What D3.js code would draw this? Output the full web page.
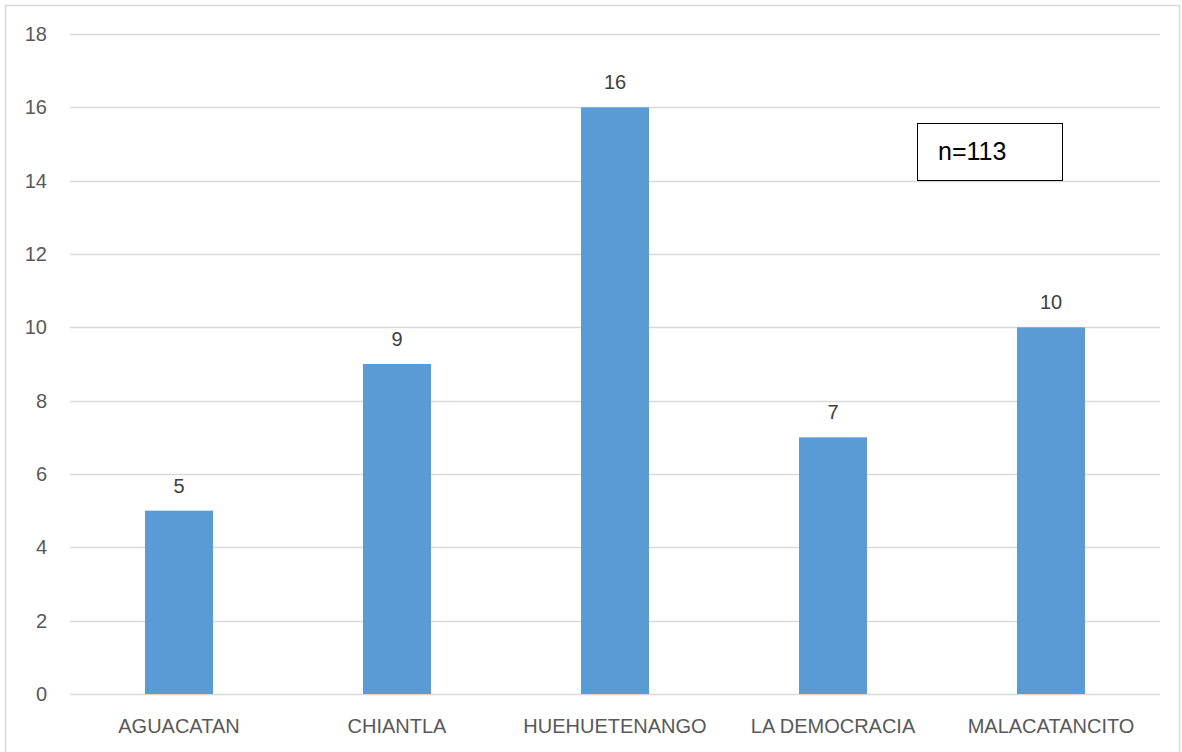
<!DOCTYPE html>
<html>
<head>
<meta charset="utf-8">
<script src="https://cdn.jsdelivr.net/npm/d3@7"></script>
<style>
  html, body { margin: 0; padding: 0; background: #fff; }
  svg { display: block; }
  text { font-family: "Liberation Sans", "DejaVu Sans", sans-serif; }
</style>
</head>
<body>
<svg id="chart" width="1182" height="752"></svg>
<script>
// Municipios and their counts
const categories = ["AGUACATAN", "CHIANTLA", "HUEHUETENANGO", "LA DEMOCRACIA", "MALACATANCITO"];
const values = [5, 9, 16, 7, 10];
const yTicks = [0, 2, 4, 6, 8, 10, 12, 14, 16, 18];
const noteText = "n=113";

const svg = d3.select("#chart");
const W = 1182, H = 752;
const plot = { left: 70, right: 1160, top: 34, bottom: 694 };

// Outer chart border
svg.append("rect")
  .attr("x", 5.5).attr("y", 5.5)
  .attr("width", W - 8).attr("height", H + 10)
  .attr("fill", "#fff")
  .attr("stroke", "#d9d9d9").attr("stroke-width", 1.5);

const x = d3.scaleBand()
  .domain(categories)
  .range([plot.left, plot.right])
  .paddingInner(0.688)
  .paddingOuter(0.344);

const y = d3.scaleLinear()
  .domain([0, 18])
  .range([plot.bottom, plot.top]);

// Horizontal gridlines
svg.append("g")
  .selectAll("line")
  .data(yTicks)
  .join("line")
  .attr("x1", plot.left).attr("x2", plot.right)
  .attr("y1", d => Math.round(y(d)) + 0.5)
  .attr("y2", d => Math.round(y(d)) + 0.5)
  .attr("stroke", "#d9d9d9").attr("stroke-width", 1.3);

// Y axis labels
const yAxis = d3.axisLeft(y).tickValues(yTicks).tickSize(0).tickPadding(0);
const yg = svg.append("g")
  .attr("transform", `translate(47,0)`)
  .call(yAxis);
yg.select(".domain").remove();
yg.selectAll("text")
  .attr("fill", "#595959")
  .attr("font-size", 20)
  .attr("font-family", "'Liberation Sans', sans-serif");

// Bars
svg.append("g")
  .selectAll("rect")
  .data(values)
  .join("rect")
  .attr("x", (d, i) => x(categories[i]))
  .attr("width", x.bandwidth())
  .attr("y", d => y(d))
  .attr("height", d => y(0) - y(d))
  .attr("fill", "#5b9bd5");

// Value labels above bars
svg.append("g")
  .selectAll("text")
  .data(values)
  .join("text")
  .attr("x", (d, i) => x(categories[i]) + x.bandwidth() / 2)
  .attr("y", d => y(d) - 18)
  .attr("text-anchor", "middle")
  .attr("fill", "#404040")
  .attr("font-size", 20)
  .text(d => d);

// Category labels
const xAxis = d3.axisBottom(x).tickSize(0).tickPadding(0);
const xg = svg.append("g")
  .attr("transform", `translate(0,${plot.bottom + 39})`)
  .call(xAxis);
xg.select(".domain").remove();
xg.selectAll("text")
  .attr("dy", 0)
  .attr("fill", "#595959")
  .attr("font-size", 20)
  .attr("font-family", "'Liberation Sans', sans-serif");

// Sample size annotation box
const note = svg.append("g");
note.append("rect")
  .attr("x", 917.5).attr("y", 123.5)
  .attr("width", 145).attr("height", 57)
  .attr("fill", "#fff")
  .attr("stroke", "#000").attr("stroke-width", 1);
note.append("text")
  .attr("x", 938).attr("y", 160)
  .attr("fill", "#000")
  .attr("font-size", 25)
  .text(noteText);
</script>
</body>
</html>
